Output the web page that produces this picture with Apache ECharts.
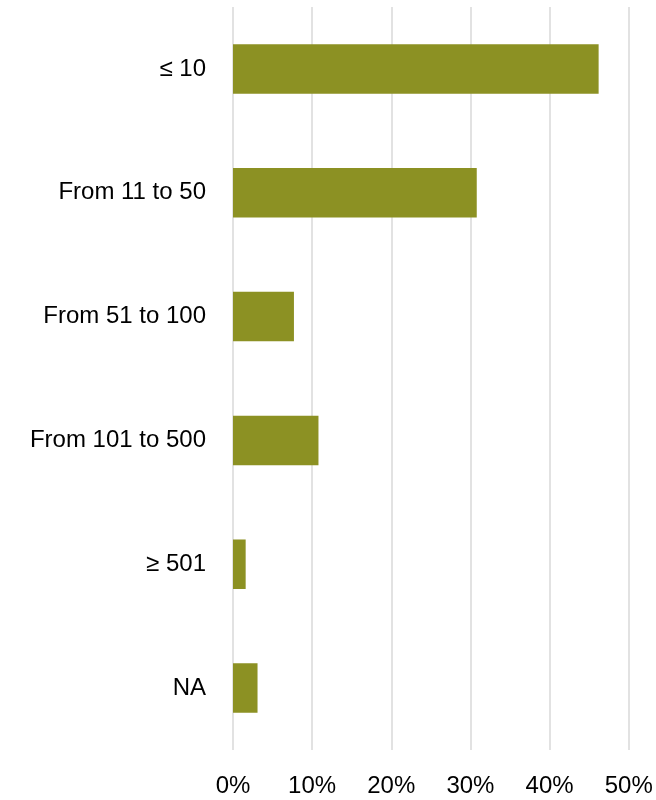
<!DOCTYPE html>
<html>
<head>
<meta charset="utf-8">
<script src="https://cdn.jsdelivr.net/npm/echarts@6/dist/echarts.min.js"></script>
<style>html,body{margin:0;padding:0;background:#fff}#c{width:656px;height:800px}</style>
</head>
<body>
<div id="c"></div>
<script>
var categories = ["≤ 10", "From 11 to 50", "From 51 to 100", "From 101 to 500", "≥ 501", "NA"];
var values = [46.2, 30.8, 7.7, 10.8, 1.6, 3.1];
var tickLabels = ["0%", "10%", "20%", "30%", "40%", "50%"];

var chart = echarts.init(document.getElementById('c'), null, {renderer: 'canvas'});
chart.setOption({
  animation: false,
  grid: {left: 233, right: 656 - 628.7, top: 7, bottom: 50, containLabel: false},
  xAxis: {
    type: 'value', min: 0, max: 50, interval: 10,
    axisLine: {show: false}, axisTick: {show: false},
    splitLine: {show: true, lineStyle: {color: '#d9d9d9', width: 1.5}},
    axisLabel: {
      margin: 24, color: '#000', fontFamily: 'Liberation Sans', fontSize: 24,
      formatter: function (v) { return tickLabels[Math.round(v / 10)]; }
    }
  },
  yAxis: {
    type: 'category', data: categories, inverse: true,
    axisLine: {show: false}, axisTick: {show: false},
    axisLabel: {margin: 27, color: '#000', fontFamily: 'Liberation Sans', fontSize: 24}
  },
  series: [{
    type: 'bar', data: values, barWidth: '40%',
    itemStyle: {color: '#8c9123'}
  }]
});
</script>
</body>
</html>
